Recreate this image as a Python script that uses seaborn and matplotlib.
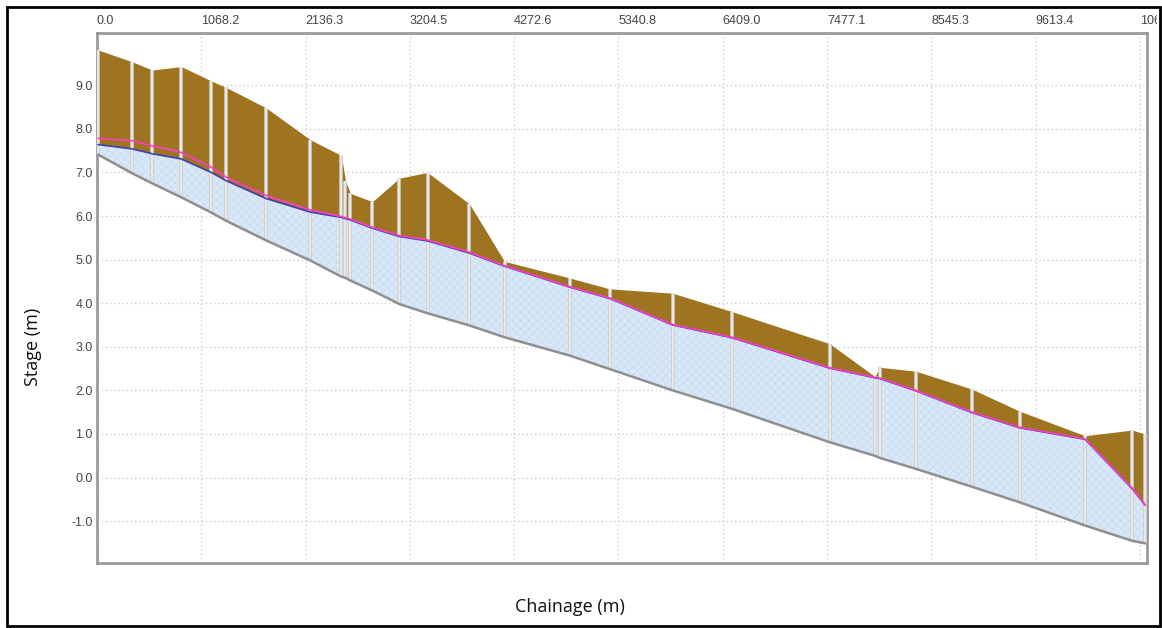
import matplotlib
matplotlib.use("Agg")
import matplotlib.pyplot as plt
import seaborn as sns
import pandas as pd
from matplotlib.patches import Rectangle
from matplotlib.transforms import Bbox, TransformedBbox

# cross sections along the reach
chainage = [12, 361, 566, 863, 1171, 1324, 1734, 2186, 2503, 2545, 2596, 2821,
            3098, 3386, 3815, 4174, 4841, 5251, 5897, 6501, 7506, 7967, 8019,
            8388, 8962, 9454, 10120, 10602, 10735]
bank_top = [9.81, 9.54, 9.35, 9.43, 9.10, 8.95, 8.48, 7.75, 7.39, 6.81, 6.52, 6.33,
            6.87, 7.00, 6.28, 4.96, 4.58, 4.33, 4.23, 3.81, 3.07, 2.32, 2.53,
            2.44, 2.03, 1.52, 0.96, 1.09, 1.00]
max_level = [7.78, 7.73, 7.61, 7.46, 7.12, 6.89, 6.47, 6.14, 5.99, 5.96, 5.93, 5.74,
             5.55, 5.45, 5.17, 4.86, 4.38, 4.12, 3.51, 3.22, 2.52, 2.30, 2.28,
             2.00, 1.50, 1.15, 0.89, -0.24, -0.62]
water_level = [7.64, 7.54, 7.43, 7.31, 7.00, 6.81, 6.40, 6.09, 5.97, 5.94, 5.91, 5.72,
               5.53, 5.43, 5.15, 4.85, 4.37, 4.11, 3.50, 3.21, 2.51, 2.29, 2.27,
               1.99, 1.49, 1.14, 0.88, -0.25, -0.63]
bed_level = [7.41, 6.98, 6.75, 6.43, 6.08, 5.89, 5.44, 4.98, 4.61, 4.58, 4.52, 4.29,
             3.98, 3.77, 3.49, 3.22, 2.80, 2.49, 2.00, 1.58, 0.81, 0.50, 0.45,
             0.20, -0.21, -0.57, -1.10, -1.45, -1.51]

x_tick_labels = ["0.0", "1068.2", "2136.3", "3204.5", "4272.6", "5340.8",
                 "6409.0", "7477.1", "8545.3", "9613.4", "10681.6"]
y_ticks = [-1.0, 0.0, 1.0, 2.0, 3.0, 4.0, 5.0, 6.0, 7.0, 8.0, 9.0]

df = pd.DataFrame({"Chainage": chainage, "Bank": bank_top, "Max": max_level,
                   "Water": water_level, "Bed": bed_level})

sns.set_style("white")
plt.rcParams["font.family"] = ["Liberation Sans", "DejaVu Sans"]
plt.rcParams["hatch.linewidth"] = 0.5

fig = plt.figure(figsize=(11.62, 6.28), dpi=100)
ax = fig.add_axes([97 / 1162, 65 / 628, 1050 / 1162, 530 / 628])

# fills
ax.fill_between(df["Chainage"], df["Water"], df["Bank"], color="#9e7420", lw=0, zorder=2)
ax.fill_between(df["Chainage"], df["Bed"], df["Water"], facecolor="#d9e8f8",
                edgecolor="#c8dbf1", hatch="xxxx", lw=0, zorder=2)

# cross section lines
ax.vlines(df["Chainage"], df["Bed"], df["Bank"], color="#cfcfcf", lw=2.6, zorder=3)
ax.vlines(df["Chainage"], df["Bed"], df["Bank"], color="#ececec", lw=1.2, zorder=3)

sns.lineplot(data=df, x="Chainage", y="Bed", color="#8f8f8f", lw=1.8, ax=ax, zorder=4)
sns.lineplot(data=df, x="Chainage", y="Water", color="#4040b0", lw=1.2, ax=ax, zorder=4)
sns.lineplot(data=df, x="Chainage", y="Max", color="#ff3cc8", lw=1.2, ax=ax, zorder=5)

x_ticks = [float(t) for t in x_tick_labels]
ax.set_xlim(0, 10755)
ax.set_ylim(-1.96, 10.2)
ax.set_xticks(x_ticks)
ax.set_xticklabels(x_tick_labels)
ax.set_yticks(y_ticks)
ax.set_yticklabels([f"{v:.1f}" for v in y_ticks])
ax.xaxis.tick_top()
ax.tick_params(axis="x", length=0, pad=4, labelsize=9, labelcolor="#444444")
ax.tick_params(axis="y", length=0, pad=3, labelsize=9, labelcolor="#444444")
for lbl in ax.get_xticklabels():
    lbl.set_horizontalalignment("left")
    lbl.set_clip_on(True)
    lbl.set_clip_box(TransformedBbox(Bbox([[0, 0], [1157 / 1162, 1]]), fig.transFigure))

ax.grid(True, color="#cfcfcf", linestyle=(0, (1, 2)), lw=1)
ax.set_axisbelow(True)
for s in ax.spines.values():
    s.set_color("#9a9a9a")
    s.set_linewidth(2)

ax.set_xlabel("")
ax.set_ylabel("")
fig.text(570 / 1162, 1 - 607 / 628, "Chainage (m)", ha="center", va="center",
         fontsize=13, family=["Open Sans", "DejaVu Sans"], color="#111111")
fig.text(33 / 1162, 1 - 347 / 628, "Stage (m)", ha="center", va="center",
         rotation=90, fontsize=13, family=["Open Sans", "DejaVu Sans"], color="#111111")

# outer frame
fig.patches.append(Rectangle((7 / 1162, 2 / 628), 1153 / 1162, 619 / 628,
                             transform=fig.transFigure, fill=False,
                             edgecolor="black", lw=2))

fig.savefig("out.png", dpi=100)
